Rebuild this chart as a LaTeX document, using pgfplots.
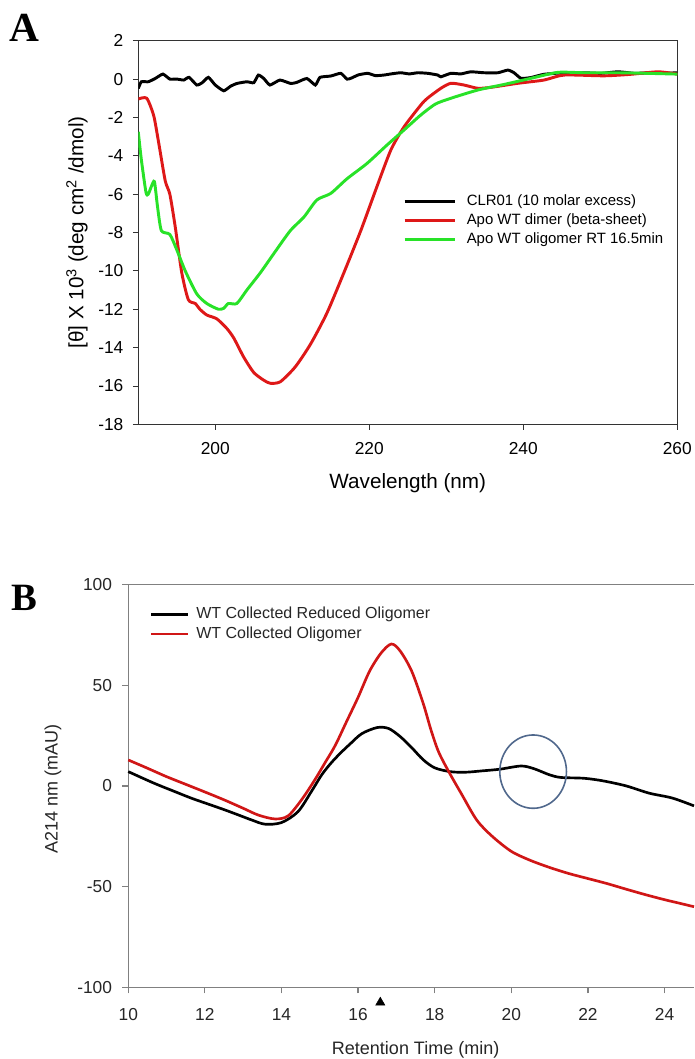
\documentclass[border=0pt]{standalone}
\usepackage{fontspec}
\setmainfont{Liberation Sans}
\newfontfamily\timesf{Liberation Serif}
\usepackage{pgfplots}
\pgfplotsset{compat=1.18}
\definecolor{redA}{RGB}{222,24,24}
\definecolor{greenA}{RGB}{40,226,40}
\definecolor{redB}{RGB}{208,22,22}
\definecolor{circ}{RGB}{80,104,140}
\begin{document}
\begin{tikzpicture}
\path[use as bounding box] (0,0) rectangle (520.5pt,794.25pt);
\node[font=\timesf\bfseries\fontsize{31}{31}\selectfont] at (18.2pt,773.6pt) {A};
\node[font=\timesf\bfseries\fontsize{29}{29}\selectfont] at (18.2pt,346.1pt) {B};

\begin{axis}[
 at={(103.7pt,476.0pt)}, anchor=south west,
 width=404.25pt, height=287.7pt, scale only axis,
 xmin=190, xmax=260, ymin=-18, ymax=2,
 xtick={200,220,240,260}, ytick={-18,-16,...,2},
 tick align=outside, major tick length=4pt,
 xtick pos=left, ytick pos=left,
 axis line style={draw=black!80, line width=0.6pt},
 tick style={draw=black!80, line width=0.6pt},
 /pgf/number format/assume math mode=true,
 ticklabel style={font=\fontsize{13}{15}\selectfont},
 xticklabel style={inner sep=0pt, yshift=-9.7pt, anchor=north},
 yticklabel style={inner sep=0pt, xshift=-7pt, anchor=east},
 xlabel={Wavelength (nm)},
 ylabel={[θ] X 10\textsuperscript{3} (deg cm\textsuperscript{2} /dmol)},
 label style={font=\fontsize{15.5}{18}\selectfont},
 xlabel style={at={(axis description cs:0.5,-0.153)}, anchor=center},
 ylabel style={at={(axis description cs:-0.1137,0.5)}, anchor=center},
 legend style={at={(axis description cs:0.491,0.605)}, anchor=north west, draw=none, fill=none,
   inner sep=0pt, font=\fontsize{11.2}{13}\selectfont, row sep=1.25pt,
   nodes={inner sep=1pt, text height=8.5pt, text depth=2.5pt},
   /tikz/every odd column/.style={column sep=7pt}},
 legend cell align=left,
 legend image code/.code={\draw[#1] (0pt,0pt) -- (37.5pt,0pt);},
]
\addplot[black, line width=2.2pt, smooth, tension=0.3] coordinates {
(190,-0.49) (190.4,-0.14) (191.3,-0.14) (192.2,0.03) (193.2,0.26) (194.1,0.0) (195.0,0.0)
(195.9,-0.05) (196.6,0.09) (197.6,-0.31) (198.3,-0.19) (199.1,0.09) (200.0,-0.31) (201.1,-0.61)
(202.0,-0.37) (202.8,-0.23) (204.1,-0.14) (205.0,-0.19) (205.6,0.21) (206.3,0.03) (207.1,-0.31)
(208.4,-0.05) (209.8,-0.23) (210.6,-0.17) (211.9,0.03) (213.0,-0.31) (213.6,0.09) (215.0,0.16)
(216.3,0.30) (217.1,0.0) (217.6,0.04) (218.6,0.22) (219.8,0.30) (220.8,0.18) (221.9,0.21)
(223.0,0.28) (224.1,0.33) (225.2,0.27) (226.3,0.33) (227.6,0.30) (228.9,0.21) (229.3,0.12)
(230.6,0.30) (231.9,0.27) (233.2,0.38) (234.9,0.33) (236.7,0.33) (238.0,0.47) (238.8,0.33)
(239.7,0.04) (241.0,0.08) (242.7,0.25) (245.3,0.33) (247.9,0.33) (250.1,0.30) (252.3,0.38)
(254.5,0.30) (256.6,0.33) (258.3,0.30) (260,0.33)
};
\addlegendentry{CLR01 (10 molar excess)}
\addplot[redA, line width=2.2pt, smooth, tension=0.4] coordinates {
(190,-1.04) (191.1,-1.0) (192.0,-1.9) (192.6,-3.2) (193.5,-5.3) (194.1,-6.0) (194.8,-7.7)
(195.65,-10.1) (196.5,-11.5) (197.4,-11.7) (198.0,-12.0) (198.9,-12.3) (200.2,-12.5)
(201.5,-13.0) (202.4,-13.5) (203.7,-14.5) (205.0,-15.3) (206.3,-15.7) (207.15,-15.86)
(208.45,-15.78) (210.4,-15.0) (212.4,-13.8) (214.5,-12.2) (216.7,-10.1) (218.9,-7.9)
(221.0,-5.6) (222.8,-3.7) (224.5,-2.5) (226.7,-1.35) (227.55,-1.0) (229.3,-0.48)
(230.6,-0.22) (232.3,-0.31) (234.1,-0.48) (235.8,-0.43) (239.3,-0.22) (242.7,-0.05)
(245.3,0.21) (250.5,0.17) (254,0.25) (257.5,0.38) (260,0.26)
};
\addlegendentry{Apo WT dimer (beta-sheet)}
\addplot[greenA, line width=2.2pt, smooth, tension=0.4] coordinates {
(190,-2.75) (190.4,-4.2) (191.0,-5.9) (191.3,-6.0) (191.7,-5.6) (192.1,-5.35) (192.5,-6.65)
(193.0,-7.9) (194.1,-8.1) (195.0,-8.9) (196.1,-10.0) (197.6,-11.2) (198.9,-11.7) (200.4,-12.0)
(201.1,-11.95) (201.7,-11.7) (202.8,-11.7) (204.1,-11.0) (205.85,-10.1) (207.6,-9.1)
(209.75,-7.9) (211.5,-7.2) (213.2,-6.3) (215.0,-5.96) (217.1,-5.2) (219.7,-4.4) (222.3,-3.44)
(224.5,-2.66) (226.7,-1.87) (228.6,-1.3) (230.6,-1.0) (234.1,-0.57) (237.5,-0.28)
(241.0,0.04) (244.5,0.35) (247.9,0.33) (252.3,0.33) (256,0.3) (260,0.26)
};
\addlegendentry{Apo WT oligomer RT 16.5min}
\end{axis}

\begin{axis}[
 at={(96.2pt,53.8pt)}, anchor=south west,
 width=424.3pt, height=302pt, scale only axis,
 xmin=10, xmax=24.77, ymin=-100, ymax=100,
 xtick={10,12,...,24}, ytick={-100,-50,0,50,100},
 axis x line=box, axis y line=left,
 axis line style={-, draw=black!50, line width=0.9pt},
 tick align=outside, major tick length=4.5pt,
 xtick pos=left, ytick pos=left,
 tick style={draw=black!50, line width=0.9pt},
 clip=false,
 /pgf/number format/assume math mode=true,
 ticklabel style={font=\fontsize{13}{15}\selectfont, text=black!85},
 xticklabel style={inner sep=0pt, yshift=-11pt, anchor=north},
 yticklabel style={inner sep=0pt, xshift=-7.5pt, anchor=east},
 xlabel={Retention Time (min)},
 ylabel={A214 nm (mAU)},
 label style={font=\fontsize{13.5}{16}\selectfont, text=black!85},
 xlabel style={at={(axis description cs:0.508,-0.1557)}, anchor=center},
 ylabel style={at={(axis description cs:-0.1331,0.4925)}, anchor=center},
 legend style={at={(axis description cs:0.038,0.949)}, anchor=north west, draw=none, fill=none,
   inner sep=0pt, font=\fontsize{12}{14}\selectfont, row sep=0.5pt,
   nodes={inner sep=1pt, text height=9pt, text depth=3pt, text=black!85},
   /tikz/every odd column/.style={column sep=4.2pt}},
 legend cell align=left,
 legend image code/.code={\draw[#1] (0pt,0pt) -- (27.5pt,0pt);},
]
\draw[black!50, line width=0.9pt] (rel axis cs:0,1) -- (rel axis cs:1,1);
\addplot[black, line width=2pt, smooth, tension=0.5] coordinates {
(10,7.1) (10.5,2.8) (10.78,0.5) (11.2,-2.7) (11.65,-6.1) (12.1,-9.1) (12.52,-11.9)
(12.9,-14.6) (13.22,-16.9) (13.57,-19) (14.0,-18.2) (14.43,-12.8) (14.78,-2.8) (15.05,5.5)
(15.3,11.5) (15.55,16.5) (15.8,21) (16.1,26) (16.5,29) (16.8,28.5) (17.1,24.5) (17.4,19)
(17.7,13) (18.0,9) (18.4,7.1) (18.8,6.8) (19.25,7.5) (19.7,8.3) (20.26,9.9) (20.6,8.5)
(21.0,5.5) (21.3,4.2) (21.9,3.8) (22.4,2.5) (23.0,0) (23.6,-3.6) (24.2,-6) (24.77,-9.9)
};
\addlegendentry{WT Collected Reduced Oligomer}
\addplot[redB, line width=2pt, smooth, tension=0.5] coordinates {
(10,12.9) (10.5,8.8) (11,4.6) (11.5,0.8) (12,-3) (12.5,-6.9) (13,-11.1) (13.4,-14.5)
(13.83,-16.4) (14.17,-14.9) (14.52,-7) (14.87,3) (15.13,11.3) (15.4,20) (15.7,32) (16.0,44)
(16.3,57) (16.6,66) (16.87,70.5) (17.1,67) (17.4,57) (17.7,41) (17.9,28) (18.1,17) (18.37,7)
(18.7,-4) (19.1,-17) (19.5,-25) (20.0,-32.5) (20.5,-37) (21.0,-40.5) (21.5,-43.5)
(22.0,-46) (22.5,-48.5) (23.0,-51.3) (23.5,-54) (24.0,-56.5) (24.4,-58.3) (24.77,-60)
};
\addlegendentry{WT Collected Oligomer}
\addplot[only marks, mark=triangle*, mark size=4pt, black, forget plot] coordinates {(16.58,-107.6)};
\draw[circ, line width=1.2pt] (axis cs:20.57,7.1) ellipse [x radius=25pt, y radius=27.5pt];
\end{axis}
\end{tikzpicture}
\end{document}
